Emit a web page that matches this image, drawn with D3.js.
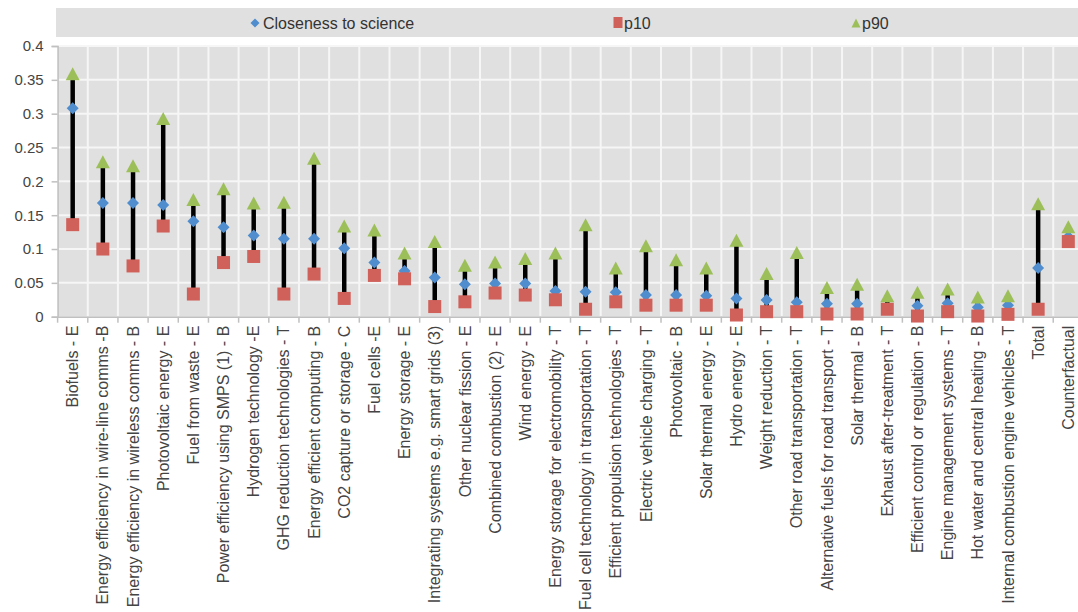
<!DOCTYPE html>
<html><head><meta charset="utf-8">
<script src="https://cdn.jsdelivr.net/npm/d3@7"></script>
<style>body{margin:0;background:#fff;}svg{display:block;font-family:"Liberation Sans",Arial,sans-serif;}</style>
</head><body>
<script>
const categories = ["Biofuels - E","Energy efficiency in wire-line comms -B","Energy efficiency in wireless comms - B","Photovoltaic energy - E","Fuel from waste - E","Power efficiency using SMPS (1) - B","Hydrogen technology -E","GHG reduction technologies - T","Energy efficient computing - B","CO2 capture or storage - C","Fuel cells -E","Energy storage - E","Integrating systems e.g. smart grids (3)","Other nuclear fission - E","Combined combustion (2) - E","Wind energy - E","Energy storage for electromobility - T","Fuel cell technology in transportation - T","Efficient propulsion technologies - T","Electric vehicle charging - T","Photovoltaic - B","Solar thermal energy - E","Hydro energy - E","Weight reduction - T","Other road transportation - T","Alternative fuels for road transport - T","Solar thermal - B","Exhaust after-treatment - T","Efficient control or regulation - B","Engine management systems - T","Hot water and central heating - B","Internal combustion engine vehicles - T","Total","Counterfactual"];
const closeness = [0.308,0.168,0.168,0.165,0.141,0.132,0.120,0.115,0.115,0.101,0.080,0.0675,0.058,0.048,0.049,0.049,0.038,0.037,0.036,0.032,0.032,0.031,0.027,0.0247,0.0213,0.019,0.019,0.012,0.016,0.02,0.014,0.017,0.072,0.118];
const p10 = [0.136,0.100,0.075,0.134,0.0335,0.080,0.089,0.0335,0.063,0.027,0.061,0.056,0.015,0.022,0.035,0.032,0.025,0.011,0.022,0.017,0.017,0.017,0.0025,0.0074,0.0074,0.004,0.004,0.011,0.001,0.0074,0.001,0.0035,0.011,0.111];
const p90 = [0.359,0.229,0.223,0.293,0.173,0.189,0.168,0.169,0.234,0.134,0.128,0.094,0.111,0.076,0.081,0.086,0.094,0.136,0.072,0.105,0.084,0.072,0.113,0.064,0.095,0.043,0.048,0.031,0.036,0.041,0.029,0.031,0.167,0.133];
const yTicks = [0,0.05,0.1,0.15,0.2,0.25,0.3,0.35,0.4];
const seriesNames = ["Closeness to science","p10","p90"];

const W = 1078, H = 612;
const colors = {blue:"#4f8dcf", red:"#d0605a", green:"#9dbf5a"};
const svg = d3.select("body").append("svg").attr("width",W).attr("height",H);

const x = d3.scaleBand().domain(categories).range([57.6, 1083.4]).paddingInner(0).paddingOuter(0);
const y = d3.scaleLinear().domain([0,0.4]).range([316.7, 46]);

// legend band
svg.append("rect").attr("x",56).attr("y",8).attr("width",W-56).attr("height",29).attr("fill","#e0e0e0");

// plot background
svg.append("rect").attr("x",x.range()[0]).attr("y",y(0.4)).attr("width",x.range()[1]-x.range()[0]).attr("height",y(0)-y(0.4)).attr("fill","#e0e0e0");

// gridlines
svg.append("g").selectAll("line").data(yTicks.slice(1)).join("line")
  .attr("x1",x.range()[0]).attr("x2",x.range()[1]).attr("y1",d=>y(d)).attr("y2",d=>y(d))
  .attr("stroke","#f6f6f6").attr("stroke-width",2);
svg.append("g").selectAll("line").data(categories.slice(1)).join("line")
  .attr("x1",d=>x(d)).attr("x2",d=>x(d)).attr("y1",y(0.4)).attr("y2",y(0))
  .attr("stroke","#f6f6f6").attr("stroke-width",2);

// y axis
const yAxis = d3.axisLeft(y).tickValues(yTicks).tickSize(6).tickPadding(8).tickFormat(d=>String(d));
const gy = svg.append("g").attr("transform",`translate(${x.range()[0]},0)`).call(yAxis);
gy.select(".domain").attr("stroke","#c0c0c0").attr("stroke-width",1.5);
gy.selectAll(".tick line").attr("stroke","#c0c0c0").attr("stroke-width",1.5);
gy.selectAll(".tick text").attr("fill","#444").style("font-size","15px").style("font-family","'Liberation Sans',Arial,sans-serif");

// x axis
const xAxis = d3.axisBottom(x).tickSize(0).tickPadding(0);
const gx = svg.append("g").attr("transform",`translate(0,${y(0)})`).call(xAxis);
gx.select(".domain").attr("stroke","#c0c0c0").attr("stroke-width",1.5);
gx.selectAll(".tick text").attr("fill","#444").style("font-size","16px").style("font-family","'Liberation Sans',Arial,sans-serif")
  .attr("text-anchor","end").attr("transform","rotate(-90)").attr("x",-9).attr("y",0).attr("dy","0.35em");
// category boundary ticks
svg.append("g").selectAll("line").data(categories.concat(["__end"])).join("line")
  .attr("x1",(d,i)=>x.range()[0]+i*x.bandwidth()).attr("x2",(d,i)=>x.range()[0]+i*x.bandwidth())
  .attr("y1",y(0)).attr("y2",y(0)+6).attr("stroke","#c0c0c0").attr("stroke-width",1.5);

const cx = d=>x(d)+x.bandwidth()/2;
// hi-lo lines
svg.append("g").selectAll("line").data(categories).join("line")
  .attr("x1",cx).attr("x2",cx).attr("y1",(d,i)=>y(p10[i])).attr("y2",(d,i)=>y(p90[i]))
  .attr("stroke","#000").attr("stroke-width",4.5);

// diamonds
const diamond = (s)=>`M0,${-s}L${s},0L0,${s}L${-s},0Z`;
svg.append("g").selectAll("path").data(categories).join("path")
  .attr("d",diamond(6)).attr("fill",colors.blue)
  .attr("transform",(d,i)=>`translate(${cx(d)},${y(closeness[i])})`);
// squares
svg.append("g").selectAll("rect").data(categories).join("rect")
  .attr("x",d=>cx(d)-6.5).attr("y",(d,i)=>y(p10[i])-6.5).attr("width",13).attr("height",13).attr("fill",colors.red);
// triangles
const tri = (w,h)=>`M0,${-h/2}L${w/2},${h/2}L${-w/2},${h/2}Z`;
svg.append("g").selectAll("path").data(categories).join("path")
  .attr("d",tri(14,13)).attr("fill",colors.green)
  .attr("transform",(d,i)=>`translate(${cx(d)},${y(p90[i])})`);

// legend
const lg = svg.append("g");
const legY = 23;
const items = [
  {name:seriesNames[0], mx:255, tx:263, shape:"diamond", color:colors.blue},
  {name:seriesNames[1], mx:618, tx:624, shape:"square", color:colors.red},
  {name:seriesNames[2], mx:856, tx:862, shape:"tri", color:colors.green}
];
items.forEach(it=>{
  if(it.shape==="diamond") lg.append("path").attr("d",diamond(4.5)).attr("fill",it.color).attr("transform",`translate(${it.mx},${legY})`);
  else if(it.shape==="square") lg.append("rect").attr("x",it.mx-4.5).attr("y",legY-6).attr("width",9).attr("height",11).attr("fill",it.color);
  else lg.append("path").attr("d",tri(9,9)).attr("fill",it.color).attr("transform",`translate(${it.mx},${legY})`);
  lg.append("text").attr("x",it.tx).attr("y",legY).attr("dy","0.35em").attr("fill","#333")
    .style("font-size","16px").text(it.name);
});
</script>
</body></html>
